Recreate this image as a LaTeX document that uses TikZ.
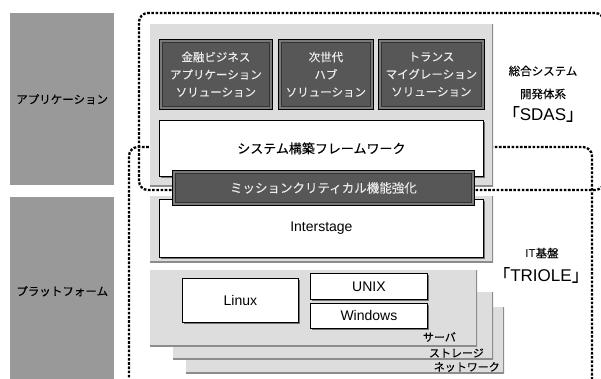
\documentclass[tikz,border=0pt]{standalone}
\usepackage{fontspec}
\setmainfont{Noto Sans CJK JP}[FakeBold=0.1]
\newfontfamily\lat{Liberation Sans}
\usetikzlibrary{shadows}
\definecolor{sidegray}{HTML}{999999}
\definecolor{panelgray}{HTML}{DDDDDD}
\definecolor{panelshadow}{HTML}{8C8C8C}
\definecolor{darkfill}{HTML}{575757}
\definecolor{bevelgray}{HTML}{7A7A7A}
\begin{document}
\begin{tikzpicture}[x=1pt,y=-1pt,
  sidebox/.style={fill=sidegray, draw=none, anchor=north west, inner sep=0pt,
    font=\fontsize{11.5}{14}\selectfont},
  panel/.style={fill=panelgray, draw=none, anchor=north west, inner sep=0pt,
    path picture={\draw[panelshadow, line width=3pt]
      (path picture bounding box.north east) -- (path picture bounding box.south east)
      -- (path picture bounding box.south west);}},
  whitebox/.style={fill=white, draw=black, line width=0.8pt, anchor=north west,
    inner sep=0pt, font=\lat\fontsize{14}{16}\selectfont,
    drop shadow={shadow xshift=1.8pt, shadow yshift=-1.8pt, fill=black!55, opacity=1}},
  darkbox/.style={fill=bevelgray, draw=black, line width=0.8pt, anchor=north west,
    inner sep=0pt, text=white!93!black, align=center,
    font=\fontsize{11.5}{17.5}\selectfont,
    path picture={\draw[fill=darkfill, draw=black!80, line width=0.5pt]
      ([shift={(3pt,-3pt)}]path picture bounding box.north west) rectangle
      ([shift={(-3pt,3pt)}]path picture bounding box.south east);}},
  dotline/.style={line width=2.3pt, dash pattern=on 2.6pt off 1.6pt, rounded corners=9pt},
  lbl/.style={inner sep=0pt, font=\fontsize{11}{13}\selectfont},
  biglbl/.style={inner sep=0pt, font=\fontsize{11.5}{14}\selectfont}
]
\useasboundingbox (0,0) rectangle (601,378);
\clip (0,0) rectangle (601,378);

% side boxes
\node[sidebox, minimum width=104pt, minimum height=172pt] (appside) at (10,13) {アプリケーション};
\node[sidebox, minimum width=104pt, minimum height=188pt] (platside) at (10,197) {プラットフォーム};

% dotted group outlines
\draw[dotline] (129,390) -- (129,147) -- (592,147) -- (592,390);
\draw[dotline] (139,190) -- (139,13) -- (604,13) -- (604,190) -- cycle;

% panels
\node[panel, minimum width=343pt, minimum height=162pt] (apppanel) at (150,24) {};
\node[panel, minimum width=343pt, minimum height=66pt] (mwpanel) at (150,196) {};
\node[panel, minimum width=318pt, minimum height=66pt] (netpanel) at (186,307) {};
\node[panel, minimum width=320pt, minimum height=67pt] (stopanel) at (173,292) {};
\node[panel, minimum width=327pt, minimum height=76pt] (srvpanel) at (150,270) {};

% application solutions
\node[darkbox, minimum width=113pt, minimum height=70pt] (fin) at (159,39)
  {金融ビジネス\\アプリケーション\\ソリューション};
\node[darkbox, minimum width=95pt, minimum height=70pt] (hub) at (278,39)
  {次世代\\ハブ\\ソリューション};
\node[darkbox, minimum width=106pt, minimum height=70pt] (trans) at (378,39)
  {トランス\\マイグレーション\\ソリューション};

% framework
\node[whitebox, minimum width=324pt, minimum height=56pt, font=\fontsize{13}{15}\selectfont]
  (fw) at (159,120) {システム構築フレームワーク};

% interstage
\node[whitebox, minimum width=324pt, minimum height=58pt] (is) at (159,199) {Interstage};

% mission critical
\node[darkbox, minimum width=302pt, minimum height=35pt, font=\fontsize{12.5}{15}\selectfont]
  (mc) at (172,170) {ミッションクリティカル機能強化};

% OS boxes
\node[whitebox, minimum width=116pt, minimum height=44pt] (linux) at (182,278) {Linux};
\node[whitebox, minimum width=117pt, minimum height=26pt] (unix) at (310,273) {UNIX};
\node[whitebox, minimum width=117pt, minimum height=25pt] (win) at (310,303) {Windows};

% layer labels
\node[lbl, anchor=east] (srv) at (456,337) {サーバ};
\node[lbl, anchor=east] (sto) at (484,353) {ストレージ};
\node[lbl, anchor=east] (net) at (500,367) {ネットワーク};

% right labels
\node[biglbl] (sdas1) at (543,71) {総合システム};
\node[biglbl] (sdas2) at (543,94) {開発体系};
\node[inner sep=0pt] (sdas3) at (543,114) {\fontsize{17}{19}\selectfont 「{\lat SDAS}」};
\node[biglbl] (it1) at (542,253) {{\lat IT}基盤};
\node[inner sep=0pt] (it2) at (541,275) {\fontsize{17}{19}\selectfont 「{\lat TRIOLE}」};
\end{tikzpicture}
\end{document}
